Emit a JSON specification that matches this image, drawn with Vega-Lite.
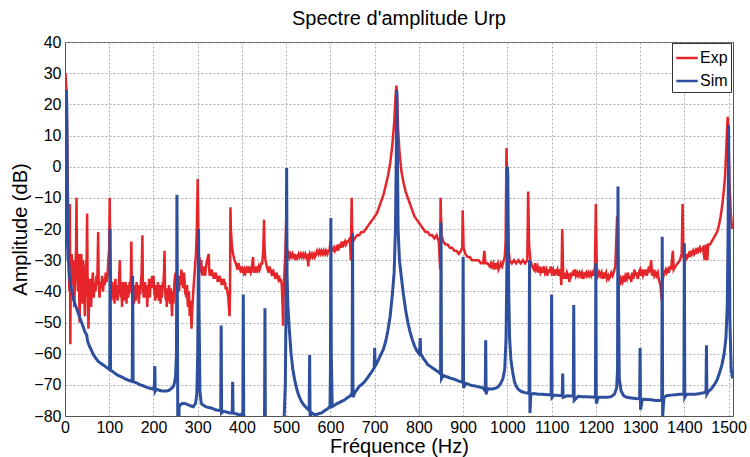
{
  "$schema": "https://vega.github.io/schema/vega-lite/v6.json",
  "autosize": "none",
  "width": 668,
  "height": 374,
  "padding": {"left": 65, "top": 42, "right": 17, "bottom": 41},
  "background": "white",
  "title": {"text": "Spectre d'amplitude Urp", "fontSize": 20, "fontWeight": "normal", "font": "Liberation Sans", "color": "black", "offset": 5},
  "config": {
    "font": "Liberation Sans",
    "view": {"stroke": "#555", "strokeWidth": 1},
    "axis": {"labelFont": "Liberation Sans", "titleFont": "Liberation Sans", "labelFontSize": 16, "labelColor": "black", "titleFontSize": 20, "titleFontWeight": "normal", "titleColor": "black", "gridColor": "#999", "gridDash": [2, 2], "gridWidth": 0.8, "gridOpacity": 1, "domainColor": "#555", "ticks": false, "labelPadding": 4},
    "legend": {"labelFont": "Liberation Sans"}
  },
  "datasets": {
    "exp": [
      {"f":0,"a":28},{"f":1,"a":30},{"f":3,"a":25},{"f":5,"a":10},{"f":7,"a":-15},{"f":9,"a":-35},{"f":10,"a":-40},{"f":11,"a":-12},{"f":12,"a":-57},{"f":13,"a":-35},{"f":15,"a":-28},{"f":17,"a":-38},{"f":19,"a":-30},{"f":21,"a":-45},{"f":23,"a":-33},{"f":25,"a":-27},{"f":26,"a":-10},{"f":27,"a":-30},{"f":29,"a":-40},{"f":31,"a":-28},{"f":33,"a":-50},{"f":35,"a":-33},{"f":37,"a":-28},{"f":39,"a":-44},{"f":41,"a":-30},{"f":43,"a":-38},{"f":45,"a":-48},{"f":47,"a":-33},{"f":49,"a":-29},{"f":50,"a":-15},{"f":51,"a":-35},{"f":53,"a":-52},{"f":55,"a":-40},{"f":57,"a":-36},{"f":59,"a":-45},{"f":61,"a":-38},{"f":63,"a":-34},{"f":65,"a":-42},{"f":67,"a":-37},{"f":69,"a":-40},{"f":71,"a":-35},{"f":73,"a":-38},{"f":75,"a":-21},{"f":76,"a":-36},{"f":78,"a":-42},{"f":80,"a":-37},{"f":82,"a":-39},{"f":84,"a":-35},{"f":86,"a":-40},{"f":88,"a":-36},{"f":90,"a":-38},{"f":92,"a":-34},{"f":94,"a":-37},{"f":96,"a":-35},{"f":98,"a":-30},{"f":100,"a":-26},{"f":101,"a":-10},{"f":102,"a":-25},{"f":104,"a":-38},{"f":105,"a":-43},{"f":106,"a":-40},{"f":107,"a":-37},{"f":108,"a":-39},{"f":109,"a":-42},{"f":110,"a":-38},{"f":111,"a":-41},{"f":112,"a":-44},{"f":113,"a":-39},{"f":114,"a":-36},{"f":115,"a":-40},{"f":116,"a":-42},{"f":117,"a":-38},{"f":118,"a":-40},{"f":119,"a":-43},{"f":120,"a":-39},{"f":121,"a":-41},{"f":122,"a":-37},{"f":124,"a":-30},{"f":125,"a":-38},{"f":126,"a":-42},{"f":127,"a":-39},{"f":128,"a":-41},{"f":129,"a":-45},{"f":130,"a":-40},{"f":131,"a":-37},{"f":132,"a":-41},{"f":133,"a":-43},{"f":134,"a":-38},{"f":135,"a":-40},{"f":136,"a":-42},{"f":137,"a":-37},{"f":138,"a":-40},{"f":139,"a":-44},{"f":140,"a":-39},{"f":141,"a":-41},{"f":142,"a":-38},{"f":143,"a":-42},{"f":144,"a":-39},{"f":145,"a":-41},{"f":146,"a":-37},{"f":147,"a":-40},{"f":148,"a":-38},{"f":149,"a":-35},{"f":150,"a":-24},{"f":151,"a":-38},{"f":152,"a":-41},{"f":153,"a":-43},{"f":154,"a":-39},{"f":155,"a":-40},{"f":156,"a":-44},{"f":157,"a":-41},{"f":158,"a":-38},{"f":159,"a":-40},{"f":160,"a":-43},{"f":161,"a":-39},{"f":162,"a":-37},{"f":163,"a":-42},{"f":164,"a":-40},{"f":165,"a":-38},{"f":166,"a":-41},{"f":167,"a":-44},{"f":168,"a":-40},{"f":169,"a":-38},{"f":170,"a":-41},{"f":171,"a":-39},{"f":172,"a":-36},{"f":173,"a":-35},{"f":175,"a":-22},{"f":176,"a":-37},{"f":177,"a":-40},{"f":178,"a":-42},{"f":179,"a":-38},{"f":180,"a":-40},{"f":181,"a":-37},{"f":182,"a":-42},{"f":183,"a":-40},{"f":184,"a":-38},{"f":185,"a":-41},{"f":186,"a":-45},{"f":187,"a":-40},{"f":188,"a":-38},{"f":189,"a":-41},{"f":190,"a":-36},{"f":191,"a":-40},{"f":192,"a":-42},{"f":193,"a":-38},{"f":194,"a":-39},{"f":195,"a":-36},{"f":196,"a":-38},{"f":197,"a":-35},{"f":198,"a":-39},{"f":199,"a":-37},{"f":200,"a":-35},{"f":201,"a":-38},{"f":202,"a":-41},{"f":203,"a":-39},{"f":204,"a":-43},{"f":205,"a":-40},{"f":206,"a":-38},{"f":207,"a":-41},{"f":208,"a":-39},{"f":209,"a":-42},{"f":210,"a":-37},{"f":211,"a":-40},{"f":212,"a":-43},{"f":213,"a":-39},{"f":214,"a":-41},{"f":215,"a":-38},{"f":216,"a":-44},{"f":217,"a":-40},{"f":218,"a":-38},{"f":219,"a":-42},{"f":220,"a":-40},{"f":221,"a":-37},{"f":222,"a":-39},{"f":224,"a":-33},{"f":225,"a":-27},{"f":226,"a":-38},{"f":227,"a":-41},{"f":228,"a":-43},{"f":229,"a":-40},{"f":230,"a":-45},{"f":231,"a":-41},{"f":232,"a":-39},{"f":233,"a":-43},{"f":234,"a":-41},{"f":235,"a":-38},{"f":236,"a":-40},{"f":237,"a":-44},{"f":238,"a":-42},{"f":239,"a":-39},{"f":240,"a":-41},{"f":241,"a":-44},{"f":242,"a":-48},{"f":243,"a":-42},{"f":244,"a":-40},{"f":245,"a":-44},{"f":246,"a":-41},{"f":247,"a":-38},{"f":248,"a":-36},{"f":250,"a":-34},{"f":251,"a":-37},{"f":252,"a":-35},{"f":253,"a":-38},{"f":254,"a":-36},{"f":255,"a":-39},{"f":256,"a":-37},{"f":257,"a":-35},{"f":258,"a":-40},{"f":259,"a":-37},{"f":260,"a":-35},{"f":261,"a":-38},{"f":262,"a":-36},{"f":263,"a":-33},{"f":264,"a":-35},{"f":265,"a":-38},{"f":266,"a":-36},{"f":267,"a":-39},{"f":268,"a":-37},{"f":269,"a":-34},{"f":270,"a":-36},{"f":271,"a":-39},{"f":272,"a":-41},{"f":273,"a":-38},{"f":274,"a":-42},{"f":275,"a":-40},{"f":276,"a":-38},{"f":277,"a":-43},{"f":278,"a":-45},{"f":279,"a":-41},{"f":280,"a":-40},{"f":281,"a":-44},{"f":282,"a":-48},{"f":283,"a":-45},{"f":284,"a":-43},{"f":285,"a":-47},{"f":286,"a":-52},{"f":287,"a":-48},{"f":288,"a":-45},{"f":290,"a":-40},{"f":292,"a":-36},{"f":294,"a":-32},{"f":296,"a":-28},{"f":298,"a":-20},{"f":300,"a":-4},{"f":301,"a":-15},{"f":302,"a":-28},{"f":303,"a":-31},{"f":304,"a":-29},{"f":305,"a":-32},{"f":306,"a":-34},{"f":307,"a":-31},{"f":308,"a":-30},{"f":309,"a":-33},{"f":310,"a":-35},{"f":311,"a":-32},{"f":312,"a":-33},{"f":313,"a":-35},{"f":314,"a":-32},{"f":315,"a":-34},{"f":316,"a":-33},{"f":317,"a":-35},{"f":318,"a":-33},{"f":320,"a":-31},{"f":323,"a":-29},{"f":325,"a":-28},{"f":326,"a":-33},{"f":327,"a":-35},{"f":328,"a":-33},{"f":330,"a":-34},{"f":332,"a":-33},{"f":333,"a":-35},{"f":335,"a":-34},{"f":336,"a":-36},{"f":338,"a":-34},{"f":339,"a":-35},{"f":341,"a":-34},{"f":342,"a":-36},{"f":344,"a":-35},{"f":345,"a":-37},{"f":347,"a":-35},{"f":348,"a":-36},{"f":350,"a":-35},{"f":351,"a":-37},{"f":353,"a":-36},{"f":354,"a":-38},{"f":356,"a":-36},{"f":357,"a":-37},{"f":359,"a":-36},{"f":360,"a":-38},{"f":362,"a":-37},{"f":363,"a":-39},{"f":366,"a":-39},{"f":369,"a":-42},{"f":372,"a":-48},{"f":373,"a":-40},{"f":374,"a":-13},{"f":375,"a":-20},{"f":377,"a":-25},{"f":380,"a":-28},{"f":383,"a":-30},{"f":386,"a":-31},{"f":388,"a":-32},{"f":390,"a":-31},{"f":392,"a":-33},{"f":394,"a":-32},{"f":396,"a":-33},{"f":398,"a":-32},{"f":400,"a":-34},{"f":402,"a":-33},{"f":404,"a":-34},{"f":406,"a":-33},{"f":408,"a":-34},{"f":410,"a":-33},{"f":412,"a":-34},{"f":414,"a":-32},{"f":416,"a":-34},{"f":418,"a":-33},{"f":420,"a":-34},{"f":422,"a":-33},{"f":425,"a":-29},{"f":427,"a":-34},{"f":430,"a":-33},{"f":432,"a":-34},{"f":434,"a":-32},{"f":436,"a":-33},{"f":438,"a":-32},{"f":440,"a":-33},{"f":442,"a":-32},{"f":444,"a":-31},{"f":446,"a":-31},{"f":448,"a":-27},{"f":450,"a":-17},{"f":451,"a":-26},{"f":453,"a":-30},{"f":456,"a":-32},{"f":458,"a":-33},{"f":460,"a":-32},{"f":462,"a":-34},{"f":464,"a":-33},{"f":466,"a":-34},{"f":468,"a":-33},{"f":470,"a":-35},{"f":472,"a":-34},{"f":474,"a":-35},{"f":476,"a":-34},{"f":478,"a":-36},{"f":480,"a":-35},{"f":482,"a":-36},{"f":484,"a":-35},{"f":486,"a":-37},{"f":488,"a":-36},{"f":490,"a":-38},{"f":492,"a":-45},{"f":493,"a":-51},{"f":494,"a":-42},{"f":496,"a":-34},{"f":498,"a":-28},{"f":500,"a":-17},{"f":501,"a":-24},{"f":502,"a":-28},{"f":504,"a":-29},{"f":506,"a":-28},{"f":508,"a":-29},{"f":510,"a":-28},{"f":513,"a":-29},{"f":515,"a":-28},{"f":518,"a":-29},{"f":520,"a":-28},{"f":523,"a":-30},{"f":525,"a":-29},{"f":528,"a":-28},{"f":530,"a":-29},{"f":533,"a":-28},{"f":535,"a":-29},{"f":538,"a":-28},{"f":540,"a":-29},{"f":543,"a":-28},{"f":545,"a":-29},{"f":548,"a":-28},{"f":550,"a":-32},{"f":551,"a":-29},{"f":553,"a":-28},{"f":555,"a":-29},{"f":558,"a":-28},{"f":560,"a":-29},{"f":563,"a":-28},{"f":565,"a":-29},{"f":568,"a":-28},{"f":570,"a":-27},{"f":573,"a":-28},{"f":575,"a":-27},{"f":578,"a":-28},{"f":580,"a":-27},{"f":583,"a":-28},{"f":585,"a":-27},{"f":588,"a":-28},{"f":590,"a":-27},{"f":593,"a":-28},{"f":595,"a":-27},{"f":598,"a":-27},{"f":600,"a":-24},{"f":602,"a":-27},{"f":605,"a":-27},{"f":608,"a":-26},{"f":610,"a":-27},{"f":613,"a":-26},{"f":615,"a":-27},{"f":618,"a":-25},{"f":620,"a":-26},{"f":623,"a":-25},{"f":625,"a":-26},{"f":628,"a":-24},{"f":630,"a":-25},{"f":633,"a":-24},{"f":635,"a":-25},{"f":638,"a":-24},{"f":640,"a":-24},{"f":644,"a":-23},{"f":646,"a":-30},{"f":648,"a":-10},{"f":649,"a":-20},{"f":651,"a":-24},{"f":655,"a":-23},{"f":660,"a":-22},{"f":665,"a":-22},{"f":670,"a":-21},{"f":675,"a":-21},{"f":680,"a":-20},{"f":685,"a":-19},{"f":690,"a":-18},{"f":695,"a":-17},{"f":700,"a":-16},{"f":705,"a":-15},{"f":710,"a":-13},{"f":715,"a":-11},{"f":720,"a":-9},{"f":725,"a":-6},{"f":730,"a":-3},{"f":735,"a":1},{"f":740,"a":7},{"f":744,"a":14},{"f":747,"a":22},{"f":749,"a":26},{"f":751,"a":22},{"f":753,"a":12},{"f":756,"a":5},{"f":760,"a":-1},{"f":765,"a":-5},{"f":770,"a":-8},{"f":775,"a":-10},{"f":780,"a":-12},{"f":785,"a":-14},{"f":790,"a":-16},{"f":795,"a":-17},{"f":800,"a":-18},{"f":805,"a":-19},{"f":810,"a":-20},{"f":815,"a":-21},{"f":820,"a":-21},{"f":825,"a":-22},{"f":830,"a":-22},{"f":835,"a":-23},{"f":840,"a":-22},{"f":845,"a":-24},{"f":848,"a":-33},{"f":849,"a":-10},{"f":851,"a":-22},{"f":855,"a":-24},{"f":860,"a":-25},{"f":865,"a":-25},{"f":870,"a":-26},{"f":875,"a":-26},{"f":880,"a":-27},{"f":885,"a":-27},{"f":890,"a":-28},{"f":895,"a":-27},{"f":898,"a":-26},{"f":899,"a":-14},{"f":901,"a":-26},{"f":905,"a":-28},{"f":910,"a":-29},{"f":915,"a":-29},{"f":920,"a":-30},{"f":925,"a":-30},{"f":930,"a":-30},{"f":935,"a":-30},{"f":940,"a":-31},{"f":945,"a":-31},{"f":948,"a":-27},{"f":950,"a":-31},{"f":955,"a":-31},{"f":960,"a":-32},{"f":963,"a":-31},{"f":965,"a":-32},{"f":968,"a":-31},{"f":970,"a":-33},{"f":973,"a":-31},{"f":975,"a":-32},{"f":978,"a":-31},{"f":980,"a":-33},{"f":983,"a":-32},{"f":985,"a":-31},{"f":988,"a":-32},{"f":990,"a":-31},{"f":994,"a":-29},{"f":996,"a":-24},{"f":998,"a":6},{"f":1000,"a":-10},{"f":1002,"a":-25},{"f":1005,"a":-30},{"f":1010,"a":-31},{"f":1015,"a":-30},{"f":1020,"a":-31},{"f":1025,"a":-30},{"f":1030,"a":-31},{"f":1035,"a":-30},{"f":1040,"a":-31},{"f":1045,"a":-30},{"f":1047,"a":-8},{"f":1049,"a":-25},{"f":1052,"a":-30},{"f":1056,"a":-32},{"f":1060,"a":-33},{"f":1063,"a":-31},{"f":1065,"a":-33},{"f":1068,"a":-32},{"f":1070,"a":-34},{"f":1073,"a":-32},{"f":1075,"a":-34},{"f":1078,"a":-33},{"f":1080,"a":-34},{"f":1083,"a":-32},{"f":1085,"a":-34},{"f":1088,"a":-33},{"f":1090,"a":-35},{"f":1093,"a":-33},{"f":1095,"a":-34},{"f":1098,"a":-32},{"f":1100,"a":-34},{"f":1103,"a":-33},{"f":1105,"a":-35},{"f":1108,"a":-33},{"f":1110,"a":-34},{"f":1113,"a":-33},{"f":1115,"a":-35},{"f":1118,"a":-33},{"f":1120,"a":-34},{"f":1122,"a":-38},{"f":1124,"a":-20},{"f":1126,"a":-34},{"f":1128,"a":-36},{"f":1130,"a":-34},{"f":1133,"a":-36},{"f":1135,"a":-34},{"f":1138,"a":-35},{"f":1140,"a":-37},{"f":1143,"a":-34},{"f":1145,"a":-35},{"f":1148,"a":-34},{"f":1150,"a":-35},{"f":1153,"a":-33},{"f":1155,"a":-35},{"f":1158,"a":-34},{"f":1160,"a":-35},{"f":1163,"a":-34},{"f":1165,"a":-35},{"f":1168,"a":-34},{"f":1170,"a":-36},{"f":1173,"a":-34},{"f":1175,"a":-35},{"f":1178,"a":-34},{"f":1180,"a":-35},{"f":1183,"a":-34},{"f":1185,"a":-35},{"f":1188,"a":-34},{"f":1190,"a":-35},{"f":1193,"a":-34},{"f":1195,"a":-35},{"f":1198,"a":-32},{"f":1200,"a":-12},{"f":1202,"a":-32},{"f":1205,"a":-35},{"f":1208,"a":-34},{"f":1210,"a":-35},{"f":1213,"a":-34},{"f":1215,"a":-36},{"f":1218,"a":-34},{"f":1220,"a":-35},{"f":1223,"a":-34},{"f":1225,"a":-36},{"f":1228,"a":-35},{"f":1230,"a":-36},{"f":1233,"a":-35},{"f":1235,"a":-34},{"f":1238,"a":-35},{"f":1240,"a":-34},{"f":1244,"a":-32},{"f":1248,"a":-16},{"f":1250,"a":-30},{"f":1251,"a":-40},{"f":1253,"a":-35},{"f":1255,"a":-38},{"f":1257,"a":-36},{"f":1260,"a":-37},{"f":1262,"a":-35},{"f":1265,"a":-37},{"f":1267,"a":-35},{"f":1270,"a":-36},{"f":1272,"a":-34},{"f":1275,"a":-36},{"f":1277,"a":-35},{"f":1280,"a":-37},{"f":1282,"a":-34},{"f":1285,"a":-36},{"f":1287,"a":-33},{"f":1290,"a":-35},{"f":1292,"a":-34},{"f":1295,"a":-36},{"f":1297,"a":-34},{"f":1300,"a":-33},{"f":1302,"a":-35},{"f":1305,"a":-33},{"f":1307,"a":-35},{"f":1310,"a":-34},{"f":1312,"a":-33},{"f":1315,"a":-35},{"f":1317,"a":-34},{"f":1320,"a":-32},{"f":1322,"a":-34},{"f":1325,"a":-30},{"f":1327,"a":-35},{"f":1330,"a":-33},{"f":1332,"a":-35},{"f":1335,"a":-34},{"f":1337,"a":-35},{"f":1340,"a":-34},{"f":1342,"a":-36},{"f":1346,"a":-38},{"f":1349,"a":-43},{"f":1351,"a":-36},{"f":1355,"a":-34},{"f":1358,"a":-33},{"f":1360,"a":-34},{"f":1363,"a":-33},{"f":1365,"a":-34},{"f":1368,"a":-32},{"f":1370,"a":-33},{"f":1374,"a":-27},{"f":1376,"a":-33},{"f":1380,"a":-32},{"f":1385,"a":-31},{"f":1390,"a":-30},{"f":1394,"a":-28},{"f":1396,"a":-12},{"f":1398,"a":-29},{"f":1402,"a":-30},{"f":1405,"a":-28},{"f":1407,"a":-29},{"f":1410,"a":-28},{"f":1412,"a":-29},{"f":1415,"a":-27},{"f":1417,"a":-28},{"f":1420,"a":-27},{"f":1422,"a":-28},{"f":1425,"a":-27},{"f":1427,"a":-28},{"f":1430,"a":-26},{"f":1432,"a":-27},{"f":1435,"a":-26},{"f":1437,"a":-27},{"f":1442,"a":-26},{"f":1446,"a":-30},{"f":1448,"a":-25},{"f":1452,"a":-30},{"f":1454,"a":-25},{"f":1458,"a":-25},{"f":1462,"a":-24},{"f":1466,"a":-23},{"f":1470,"a":-22},{"f":1474,"a":-21},{"f":1478,"a":-19},{"f":1482,"a":-16},{"f":1486,"a":-12},{"f":1489,"a":-8},{"f":1492,"a":-3},{"f":1494,"a":3},{"f":1496,"a":10},{"f":1498,"a":16},{"f":1500,"a":10},{"f":1502,"a":-5},{"f":1505,"a":-15},{"f":1508,"a":-20}
    ],
    "sim": [
      {"f":0,"a":-30},{"f":1,"a":15},{"f":3,"a":24.6},{"f":4,"a":20},{"f":5,"a":0},{"f":6,"a":-20},{"f":8,"a":-30},{"f":10,"a":-35},{"f":13,"a":-38},{"f":16,"a":-40},{"f":20,"a":-43},{"f":25,"a":-45},{"f":30,"a":-47},{"f":35,"a":-49},{"f":40,"a":-51},{"f":45,"a":-53},{"f":49,"a":-54},{"f":50,"a":-55},{"f":51,"a":-56},{"f":55,"a":-57.5},{"f":60,"a":-59},{"f":65,"a":-60.5},{"f":70,"a":-61.5},{"f":75,"a":-62.5},{"f":80,"a":-63},{"f":85,"a":-63.5},{"f":90,"a":-64},{"f":95,"a":-64.5},{"f":100,"a":-65},{"f":101,"a":-64},{"f":102,"a":-20},{"f":103,"a":-65},{"f":105,"a":-65.5},{"f":110,"a":-66},{"f":115,"a":-66.5},{"f":120,"a":-67},{"f":125,"a":-67.3},{"f":130,"a":-67.6},{"f":135,"a":-68},{"f":140,"a":-68.3},{"f":145,"a":-68.6},{"f":150,"a":-68.8},{"f":152,"a":-68},{"f":153,"a":-35},{"f":154,"a":-69},{"f":155,"a":-69},{"f":160,"a":-69.3},{"f":165,"a":-69.6},{"f":170,"a":-70},{"f":175,"a":-70.2},{"f":180,"a":-70.5},{"f":185,"a":-70.8},{"f":190,"a":-71},{"f":195,"a":-71.2},{"f":200,"a":-71.4},{"f":202,"a":-70},{"f":203,"a":-64},{"f":204,"a":-72},{"f":206,"a":-71.5},{"f":210,"a":-71.6},{"f":215,"a":-71.8},{"f":220,"a":-72},{"f":225,"a":-72},{"f":230,"a":-72},{"f":235,"a":-71.8},{"f":240,"a":-71.2},{"f":245,"a":-70.5},{"f":248,"a":-69},{"f":250,"a":-67},{"f":252,"a":-60},{"f":253,"a":-9},{"f":254,"a":-40},{"f":255,"a":-85},{"f":257,"a":-85},{"f":258,"a":-77},{"f":260,"a":-76.5},{"f":265,"a":-76},{"f":270,"a":-76},{"f":275,"a":-76.2},{"f":280,"a":-76.5},{"f":285,"a":-76.8},{"f":290,"a":-77},{"f":295,"a":-76},{"f":298,"a":-73},{"f":300,"a":-60},{"f":302,"a":-20},{"f":303,"a":-45},{"f":305,"a":-72},{"f":308,"a":-76},{"f":312,"a":-76.5},{"f":318,"a":-77},{"f":325,"a":-77.3},{"f":332,"a":-77.5},{"f":340,"a":-78},{"f":348,"a":-78.2},{"f":352,"a":-78},{"f":353,"a":-51},{"f":354,"a":-79},{"f":358,"a":-78.5},{"f":365,"a":-78.7},{"f":372,"a":-79},{"f":378,"a":-79},{"f":379,"a":-69},{"f":380,"a":-79},{"f":386,"a":-79.3},{"f":392,"a":-79.5},{"f":398,"a":-79.6},{"f":402,"a":-79},{"f":403,"a":-41},{"f":404,"a":-80},{"f":408,"a":-80.5},{"f":415,"a":-81},{"f":425,"a":-82},{"f":435,"a":-83},{"f":445,"a":-84},{"f":451,"a":-83},{"f":452,"a":-45.4},{"f":453,"a":-85},{"f":470,"a":-86},{"f":490,"a":-85},{"f":495,"a":-82},{"f":498,"a":-70},{"f":500,"a":-40},{"f":501,"a":-0.4},{"f":502,"a":-35},{"f":504,"a":-45},{"f":507,"a":-52},{"f":511,"a":-60},{"f":515,"a":-65},{"f":520,"a":-69},{"f":525,"a":-72},{"f":530,"a":-74},{"f":535,"a":-75.5},{"f":540,"a":-76.5},{"f":545,"a":-77.3},{"f":550,"a":-78},{"f":552,"a":-77},{"f":553,"a":-60.4},{"f":554,"a":-80},{"f":558,"a":-79},{"f":563,"a":-79.5},{"f":568,"a":-79.5},{"f":575,"a":-79.2},{"f":580,"a":-79},{"f":585,"a":-78.5},{"f":590,"a":-78},{"f":595,"a":-77.5},{"f":599,"a":-77},{"f":600,"a":-65},{"f":601,"a":-16.5},{"f":602,"a":-60},{"f":604,"a":-77},{"f":610,"a":-76.5},{"f":615,"a":-76},{"f":620,"a":-75.7},{"f":625,"a":-75.3},{"f":630,"a":-75},{"f":635,"a":-74.5},{"f":640,"a":-74},{"f":645,"a":-73.5},{"f":649,"a":-72.5},{"f":650,"a":-21.3},{"f":651,"a":-74},{"f":655,"a":-72.5},{"f":660,"a":-71.5},{"f":665,"a":-70.5},{"f":670,"a":-70},{"f":675,"a":-69.3},{"f":680,"a":-68.5},{"f":685,"a":-67.5},{"f":690,"a":-66.5},{"f":695,"a":-65.5},{"f":699,"a":-64.5},{"f":700,"a":-58.2},{"f":701,"a":-64},{"f":705,"a":-63},{"f":710,"a":-61.5},{"f":715,"a":-60},{"f":720,"a":-58.5},{"f":725,"a":-56},{"f":730,"a":-52.5},{"f":735,"a":-48},{"f":740,"a":-41},{"f":744,"a":-34},{"f":747,"a":-20},{"f":749,"a":5},{"f":750,"a":24.6},{"f":751,"a":10},{"f":753,"a":-20},{"f":756,"a":-30},{"f":760,"a":-35},{"f":765,"a":-41},{"f":770,"a":-46},{"f":775,"a":-50},{"f":780,"a":-53},{"f":785,"a":-55.5},{"f":790,"a":-57.5},{"f":795,"a":-59},{"f":800,"a":-60},{"f":802,"a":-58},{"f":803,"a":-55},{"f":804,"a":-60},{"f":810,"a":-61.5},{"f":815,"a":-62.5},{"f":820,"a":-63.5},{"f":825,"a":-64},{"f":830,"a":-64.5},{"f":835,"a":-65},{"f":840,"a":-65.5},{"f":845,"a":-66},{"f":849,"a":-66.5},{"f":850,"a":-18},{"f":851,"a":-68},{"f":855,"a":-67},{"f":860,"a":-67.3},{"f":865,"a":-67.5},{"f":870,"a":-67.8},{"f":875,"a":-68},{"f":880,"a":-68.2},{"f":885,"a":-68.5},{"f":890,"a":-68.8},{"f":895,"a":-69},{"f":899,"a":-69.2},{"f":900,"a":-28.9},{"f":901,"a":-71},{"f":905,"a":-69.5},{"f":910,"a":-69.7},{"f":915,"a":-70},{"f":920,"a":-70.2},{"f":925,"a":-70.3},{"f":930,"a":-70.5},{"f":935,"a":-70.6},{"f":940,"a":-70.8},{"f":945,"a":-71},{"f":950,"a":-72},{"f":951,"a":-55.7},{"f":952,"a":-73},{"f":955,"a":-71.2},{"f":960,"a":-71.3},{"f":965,"a":-71.3},{"f":970,"a":-71.2},{"f":975,"a":-71},{"f":980,"a":-70.5},{"f":985,"a":-69.5},{"f":990,"a":-68},{"f":994,"a":-65},{"f":997,"a":-55},{"f":999,"a":-30},{"f":1000,"a":0},{"f":1001,"a":-3},{"f":1003,"a":-40},{"f":1005,"a":-55},{"f":1008,"a":-62},{"f":1012,"a":-66},{"f":1016,"a":-69},{"f":1020,"a":-70.5},{"f":1025,"a":-71.5},{"f":1030,"a":-72},{"f":1035,"a":-72.3},{"f":1040,"a":-72.5},{"f":1045,"a":-72.6},{"f":1049,"a":-72.7},{"f":1050,"a":-30},{"f":1051,"a":-79},{"f":1053,"a":-73},{"f":1060,"a":-72.8},{"f":1070,"a":-73},{"f":1080,"a":-73},{"f":1090,"a":-73.2},{"f":1099,"a":-73.2},{"f":1100,"a":-41},{"f":1101,"a":-74},{"f":1105,"a":-73.3},{"f":1115,"a":-73.4},{"f":1124,"a":-73.5},{"f":1125,"a":-66.4},{"f":1126,"a":-74},{"f":1135,"a":-73.5},{"f":1145,"a":-73.6},{"f":1149,"a":-73.6},{"f":1150,"a":-44.4},{"f":1151,"a":-75},{"f":1160,"a":-73.7},{"f":1170,"a":-73.8},{"f":1180,"a":-73.8},{"f":1190,"a":-73.9},{"f":1199,"a":-74},{"f":1200,"a":-31},{"f":1201,"a":-76},{"f":1205,"a":-74},{"f":1215,"a":-74},{"f":1225,"a":-74},{"f":1235,"a":-73.8},{"f":1242,"a":-73},{"f":1247,"a":-71},{"f":1249,"a":-65},{"f":1250,"a":-6.4},{"f":1251,"a":-40},{"f":1253,"a":-68},{"f":1257,"a":-72},{"f":1263,"a":-73.5},{"f":1270,"a":-74},{"f":1280,"a":-74.2},{"f":1290,"a":-74.4},{"f":1299,"a":-74.5},{"f":1300,"a":-58.2},{"f":1301,"a":-78},{"f":1305,"a":-74.6},{"f":1315,"a":-74.7},{"f":1325,"a":-74.8},{"f":1335,"a":-75},{"f":1345,"a":-75},{"f":1349,"a":-75},{"f":1350,"a":-22.5},{"f":1351,"a":-80},{"f":1354,"a":-74},{"f":1360,"a":-73.5},{"f":1370,"a":-73.3},{"f":1380,"a":-73.2},{"f":1390,"a":-73},{"f":1399,"a":-73},{"f":1400,"a":-24.6},{"f":1401,"a":-74},{"f":1405,"a":-73},{"f":1415,"a":-73},{"f":1425,"a":-73},{"f":1435,"a":-72.8},{"f":1445,"a":-72.5},{"f":1449,"a":-72},{"f":1450,"a":-57.3},{"f":1451,"a":-73},{"f":1455,"a":-72},{"f":1460,"a":-71.5},{"f":1465,"a":-70.5},{"f":1470,"a":-69.5},{"f":1475,"a":-68},{"f":1480,"a":-66},{"f":1485,"a":-63.5},{"f":1490,"a":-60},{"f":1494,"a":-55},{"f":1497,"a":-45},{"f":1499,"a":-20},{"f":1500,"a":13.4},{"f":1501,"a":-10},{"f":1503,"a":-50},{"f":1506,"a":-65},{"f":1509,"a":-68}
    ]
  },
  "encoding": {
    "x": {"field": "f", "type": "quantitative", "scale": {"domain": [0, 1510], "nice": false, "zero": false}, "axis": {"values": [0,100,200,300,400,500,600,700,800,900,1000,1100,1200,1300,1400,1500], "format": "d", "title": "Fréquence (Hz)", "labelPadding": 3, "titlePadding": 1, "labelFlush": false}},
    "y": {"field": "a", "type": "quantitative", "scale": {"domain": [-80, 40], "nice": false, "zero": false}, "axis": {"values": [-80,-70,-60,-50,-40,-30,-20,-10,0,10,20,30,40], "format": "d", "title": "Amplitude (dB)", "titlePadding": 3, "labelFlush": false}},
    "color": {"scale": {"domain": ["Exp", "Sim"], "range": ["#e5252a", "#2d4f9e"]}, "legend": {"title": null, "orient": "none", "legendX": 607, "legendY": 1, "symbolType": "stroke", "symbolSize": 460, "symbolStrokeWidth": 2.5, "labelFontSize": 16, "labelColor": "black", "labelOffset": 1, "strokeColor": "#333", "fillColor": "white", "padding": 3, "rowPadding": 3, "symbolOffset": 0}}
  },
  "layer": [
    {"data": {"name": "exp"}, "mark": {"type": "line", "strokeWidth": 2.5, "clip": true}, "encoding": {"color": {"datum": "Exp"}}},
    {"data": {"name": "sim"}, "mark": {"type": "line", "strokeWidth": 3, "clip": true}, "encoding": {"color": {"datum": "Sim"}}}
  ]
}
